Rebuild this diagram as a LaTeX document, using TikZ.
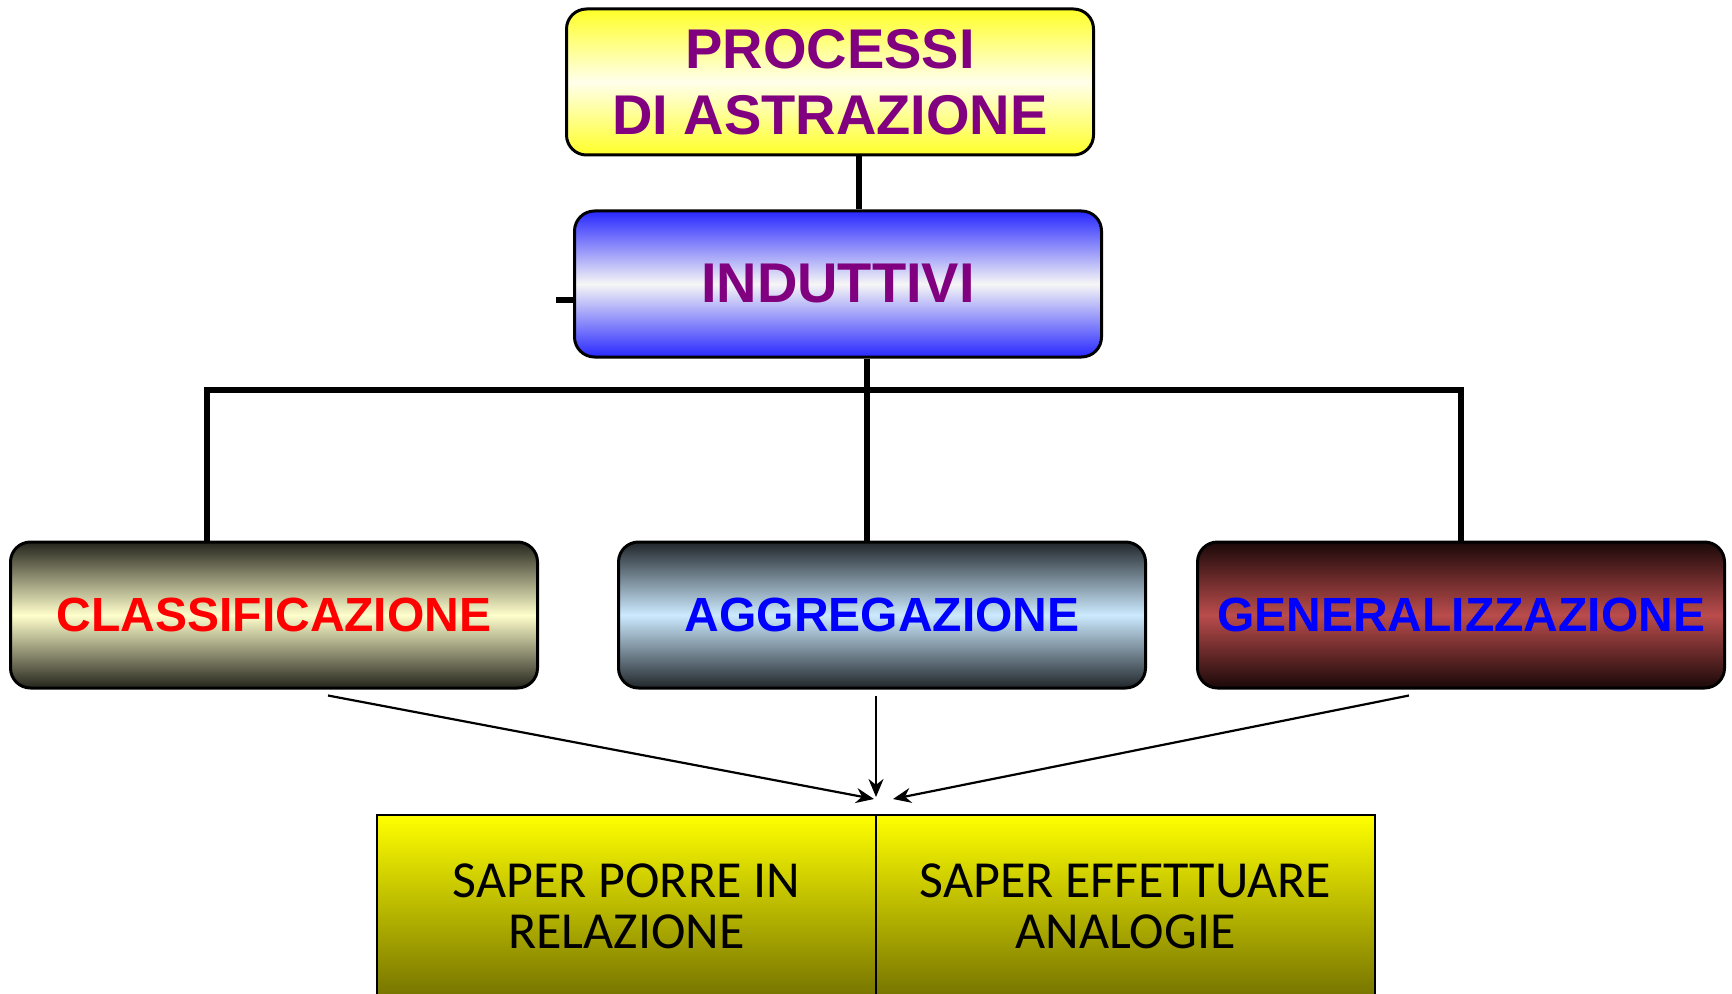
\documentclass[tikz,border=0pt]{standalone}
\usepackage{fontspec}
\setmainfont{Liberation Sans}
\newfontfamily\handfont{Carlito}
\usetikzlibrary{shapes,arrows,arrows.meta,positioning}

\definecolor{absPurple}{RGB}{128,0,128}
\definecolor{absYellow}{RGB}{255,255,40}
\definecolor{absCream}{RGB}{255,255,235}
\definecolor{absBlue}{RGB}{40,40,255}
\definecolor{absWhite}{RGB}{246,246,246}
\definecolor{clsDark}{RGB}{36,36,28}
\definecolor{clsLight}{RGB}{255,255,204}
\definecolor{aggDark}{RGB}{32,38,42}
\definecolor{aggLight}{RGB}{204,234,255}
\definecolor{genDark}{RGB}{26,8,8}
\definecolor{genLight}{RGB}{186,76,76}
\definecolor{skillOlive}{RGB}{118,116,0}

\begin{document}
\begin{tikzpicture}[%
    >={Stealth[length=9pt, width=7.5pt]}, % Filled arrow heads
    x=0.5pt, y=-0.5pt,          % One unit is one pixel of the sketch
    node distance=26.5pt and 39pt, % Global setup of box spacing
    ]
% -------------------------------------------------
% A few box styles
\tikzset{
  base/.style={draw, line width=1.5pt, rounded corners=10pt, align=center,
    inner sep=0pt, minimum width=263.5pt, minimum height=73pt},
  head/.style={base, text=absPurple, font=\bfseries\fontsize{28}{33}\selectfont},
  kind/.style={base, font=\bfseries\fontsize{24}{28}\selectfont},
  skill/.style={draw, line width=1pt, outer sep=0pt, inner sep=0pt, align=center,
    minimum width=249.5pt, minimum height=91pt,
    top color=yellow, bottom color=skillOlive,
    font=\handfont\fontsize{26}{25.5}\selectfont},
  % Connector line styles
  link/.style={draw, line width=2.8pt},
  norm/.style={->, draw, line width=1.1pt},
}
\clip (0,0) rectangle (1732,994);
\fill [white] (0,0) rectangle (1732,994);
% -------------------------------------------------
% Start by placing the nodes
\node [head, top color=absYellow, bottom color=absYellow, middle color=absCream]
  (proc) at (830,82) {PROCESSI\\DI ASTRAZIONE};
\node [head, below=of proc, xshift=4pt,
  top color=absBlue, bottom color=absBlue, middle color=absWhite] (ind) {INDUTTIVI};

\node [kind, text=blue, top color=aggDark, bottom color=aggDark, middle color=aggLight]
  (agg) at (882,615) {AGGREGAZIONE};
\node [kind, text=red, left=of agg,
  top color=clsDark, bottom color=clsDark, middle color=clsLight] (cls) {CLASSIFICAZIONE};
\node [kind, text=blue, right=24.5pt of agg,
  top color=genDark, bottom color=genDark, middle color=genLight] (gen) {GENERALIZZAZIONE};

\node [skill] (rel) at (626.5,906) {SAPER PORRE IN\\RELAZIONE};
\node [skill, right=0pt of rel] (ana) {SAPER EFFETTUARE\\ANALOGIE};

% -------------------------------------------------
% Tree connectors
\coordinate (stub) at ([xshift=-8.5pt, yshift=-8pt]ind.west);
\coordinate (bus) at (867,390);
\draw [link] ([xshift=14.5pt]proc.south) -- ([xshift=10.5pt]ind.north);
\draw [link] ([yshift=-8pt]ind.west) -- (stub);
\draw [link] ([xshift=14.5pt]ind.south) -- ([xshift=-7.5pt]agg.north);
\draw [link] ([xshift=-33.5pt]cls.north) |- (bus) -| (gen.north);

% Arrows down to the skills
\draw [norm] ([xshift=27pt, yshift=-3pt]cls.south) -- ([xshift=-1pt, yshift=8pt]rel.north east);
\draw [norm] ([xshift=-3pt, yshift=-3pt]agg.south) -- ([yshift=9pt]rel.north east);
\draw [norm] ([xshift=-26pt, yshift=-3pt]gen.south) -- ([xshift=8.5pt, yshift=8pt]rel.north east);

% -------------------------------------------------
\end{tikzpicture}
\end{document}
